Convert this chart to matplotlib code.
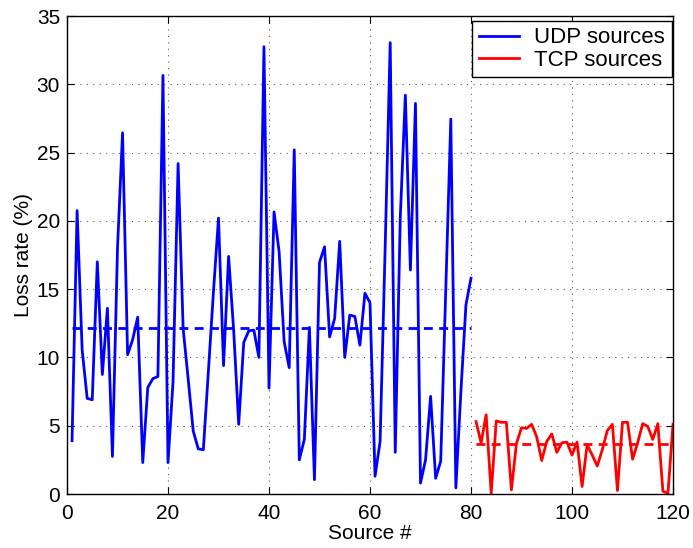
import numpy as np
import matplotlib
matplotlib.use("Agg")
import matplotlib.pyplot as plt

plt.rcParams['font.family'] = ['Liberation Sans', 'DejaVu Sans']

# loss rate (%) per source
udp_loss = [3.9, 20.75, 10.55, 7.0, 6.9, 17.0, 8.75, 13.6, 2.75, 18.0,
            26.45, 10.2, 11.3, 12.95, 2.3, 7.8, 8.45, 8.6, 30.65, 2.3,
            8.25, 24.2, 12.1, 8.4, 4.6, 3.3, 3.25, 9.0, 14.8, 20.2,
            9.4, 17.4, 12.0, 5.1, 11.1, 11.95, 12.0, 10.0, 32.75, 7.75,
            20.65, 17.75, 11.15, 9.25, 25.2, 2.5, 4.0, 12.2, 1.05, 16.95,
            18.1, 11.5, 12.85, 18.5, 10.0, 13.1, 13.0, 10.9, 14.7, 14.0,
            1.3, 3.85, 18.0, 33.05, 3.05, 20.3, 29.2, 16.4, 28.6, 0.8,
            2.5, 7.15, 1.15, 2.4, 14.9, 27.45, 0.45, 7.5, 13.85, 15.8]
tcp_loss = [5.3, 3.75, 5.8, 0.05, 5.35, 5.25, 5.25, 0.3, 3.7, 4.85,
            4.8, 5.1, 4.2, 2.45, 3.85, 4.4, 3.05, 3.75, 3.8, 2.85,
            3.8, 0.55, 3.6, 2.85, 2.05, 3.25, 4.65, 5.1, 0.25, 5.25,
            5.25, 2.55, 3.75, 5.15, 4.95, 4.0, 5.15, 0.2, 0.05, 5.1]

udp_x = np.arange(1, len(udp_loss) + 1)
tcp_x = np.arange(len(udp_loss) + 1, len(udp_loss) + len(tcp_loss) + 1)

fig = plt.figure(figsize=(6.93, 5.48), dpi=100)
ax = fig.add_axes([67 / 693, 54 / 548, 606 / 693, 478 / 548])

ax.plot(udp_x, udp_loss, color="blue", lw=2.0, label="UDP sources")
ax.plot(tcp_x, tcp_loss, color="red", lw=2.0, label="TCP sources")

# mean loss of each group
dash = (0, (3.2, 2.3))
ax.plot([udp_x[0], udp_x[-1]], [np.mean(udp_loss)] * 2, color="blue", lw=2.0, ls=dash)
ax.plot([tcp_x[0], tcp_x[-1]], [np.mean(tcp_loss)] * 2, color="red", lw=2.0, ls=dash)

ax.set_xlim(0, 120)
ax.set_ylim(0, 35)
ax.set_xticks(np.arange(0, 121, 20))
ax.set_yticks(np.arange(0, 36, 5))
ax.grid(True, ls=(0, (1, 4.8)), color="0.35", lw=0.8)
ax.tick_params(direction="in", top=True, right=True, labelsize=15, length=5, width=0.8)
ax.tick_params(axis="x", pad=7)
ax.tick_params(axis="y", pad=5)
for s in ax.spines.values():
    s.set_linewidth(1.0)

ax.set_xlabel("Source #", fontsize=15, labelpad=1)
ax.set_ylabel("Loss rate (%)", fontsize=15, labelpad=3)

leg = ax.legend(loc="upper right", bbox_to_anchor=(0.998, 0.99), fontsize=16,
                fancybox=False, framealpha=1, edgecolor="black", borderaxespad=0,
                handlelength=1.8, handletextpad=0.7, borderpad=0.3,
                labelspacing=0.05)
leg.get_frame().set_linewidth(1.0)

fig.savefig("out.png", dpi=100)
